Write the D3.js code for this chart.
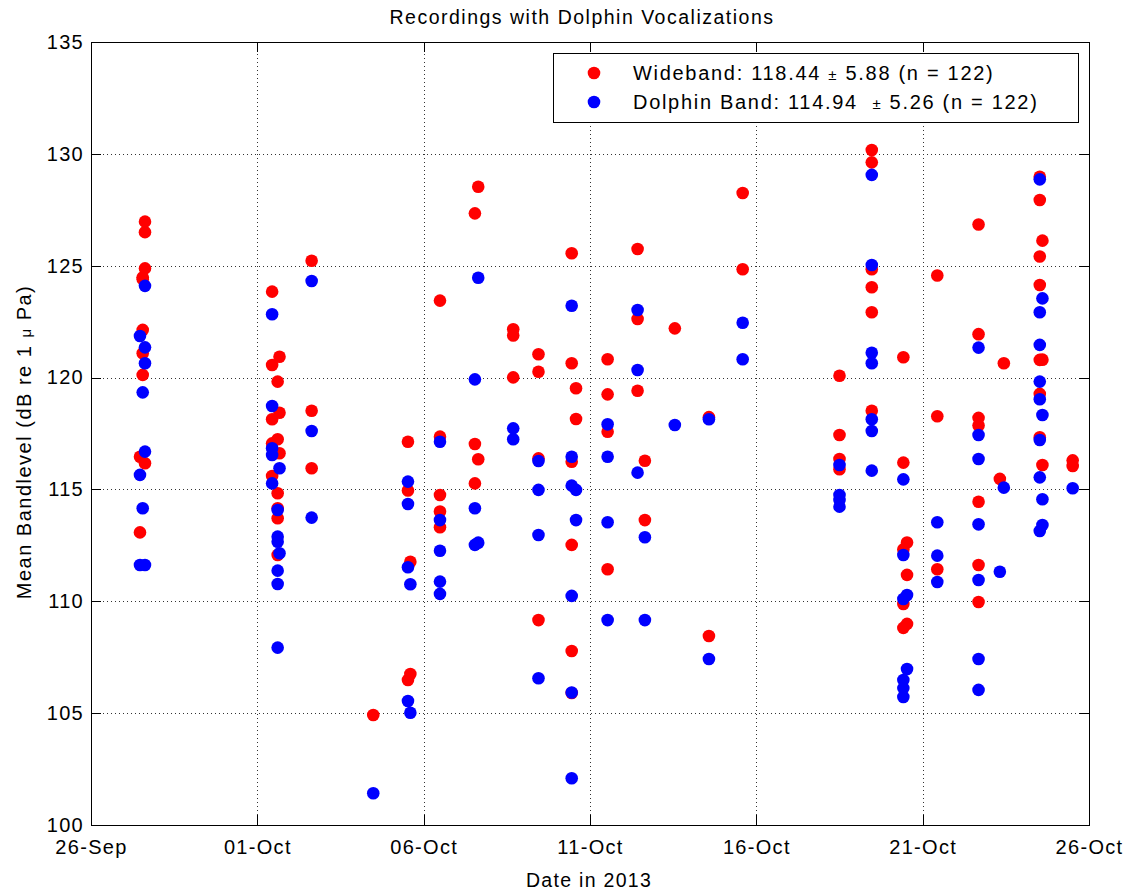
<!DOCTYPE html>
<html>
<head>
<meta charset="utf-8">
<title>Recordings with Dolphin Vocalizations</title>
<script src="https://cdn.jsdelivr.net/npm/d3@7"></script>
<style>
  html, body { margin: 0; padding: 0; background: #fff; }
  svg { display: block; font-family: "Liberation Sans", Arial, Helvetica, sans-serif; }
  text { white-space: pre; }
</style>
</head>
<body>
<svg id="chart" width="1127" height="892"></svg>
<script>
// Recording sessions (local time, 2013) and the mean band levels measured in each.
const sessionTimes = [
  "2013-09-27 11:20", "2013-09-27 13:18", "2013-09-27 14:57",
  "2013-10-01 10:40", "2013-10-01 14:40", "2013-10-01 16:00",
  "2013-10-02 15:11", "2013-10-04 11:38",
  "2013-10-05 12:40", "2013-10-05 14:24",
  "2013-10-06 11:46",
  "2013-10-07 12:58", "2013-10-07 15:22",
  "2013-10-08 16:36", "2013-10-09 10:50",
  "2013-10-10 10:48", "2013-10-10 13:55",
  "2013-10-11 12:43",
  "2013-10-12 10:20", "2013-10-12 15:36",
  "2013-10-13 13:12", "2013-10-14 13:48", "2013-10-15 14:09",
  "2013-10-18 12:00", "2013-10-19 11:17",
  "2013-10-20 10:04", "2013-10-20 12:43",
  "2013-10-21 10:33", "2013-10-22 16:19",
  "2013-10-23 07:41", "2013-10-23 10:34",
  "2013-10-24 12:29", "2013-10-24 14:24",
  "2013-10-25 12:14"
];

// Wideband level (dB re 1 uPa) per session
const widebandLevels = [
  [116.46, 113.08],
  [124.48, 124.4, 122.13, 121.09, 120.12],
  [126.97, 126.5, 124.88, 116.17],
  [123.84, 120.56, 118.14, 117.06, 115.6],
  [119.82, 117.24, 114.83, 114.16, 113.71, 112.07],
  [120.93, 118.43, 116.62],
  [125.22, 118.52, 115.95],
  [104.92],
  [117.13, 114.95, 106.48],
  [111.77, 106.75],
  [123.44, 117.36, 114.75, 114.01, 113.31],
  [127.34, 117.03, 115.27],
  [128.53, 116.35],
  [122.16, 121.88, 120.01],
  [121.04, 120.26, 116.39, 109.16],
  [125.56, 120.64, 116.24, 112.52, 107.78, 105.9],
  [119.52, 118.15],
  [120.82, 119.25, 117.58, 111.43],
  [125.75, 122.62, 119.41],
  [116.28, 113.63],
  [122.2],
  [118.23, 108.45],
  [128.25, 124.84],
  [120.08, 117.43, 116.36, 115.9],
  [130.17, 129.62, 124.84, 124.04, 122.92, 118.52],
  [120.91, 116.2, 112.32, 109.88, 108.81],
  [112.63, 111.18, 108.99],
  [124.56, 118.27, 111.43],
  [126.84, 121.94, 118.2, 117.86, 114.45, 111.62, 109.97],
  [115.47],
  [120.64],
  [128.98, 127.94, 125.41, 124.14, 120.79, 119.27, 117.33],
  [126.12, 120.8, 116.09],
  [116.3, 116.05]
];

// Dolphin-band level (dB re 1 uPa) per session
const dolphinLevels = [
  [121.86, 115.65, 111.62],
  [119.34, 114.16],
  [124.1, 121.35, 120.64, 116.69, 111.62],
  [122.83, 118.73, 116.84, 116.54, 115.27],
  [114.08, 112.89, 112.66, 111.37, 110.77, 107.93],
  [115.95, 112.15],
  [124.32, 117.61, 113.74],
  [101.42],
  [115.35, 114.35, 111.52, 105.54],
  [110.76, 105.02],
  [117.13, 113.63, 112.26, 110.88, 110.33],
  [119.92, 114.16, 112.52],
  [124.46, 112.62],
  [117.73, 117.24],
  [116.27, 114.98, 112.96, 106.56],
  [123.21, 116.46, 115.17, 110.24, 105.92, 102.09],
  [114.98, 113.63],
  [117.91, 116.46, 113.53, 109.16],
  [123.02, 120.34, 115.75],
  [112.86, 109.16],
  [117.88],
  [118.14, 107.42],
  [122.45, 120.82],
  [116.09, 114.75, 114.53, 114.23],
  [129.06, 125.03, 121.11, 120.64, 118.14, 117.61, 115.84],
  [115.45, 112.07, 110.1, 106.48, 106.12, 105.72],
  [110.28, 106.97],
  [113.53, 112.04, 110.86],
  [121.34, 117.43, 116.36, 113.44, 110.95, 107.42, 106.04],
  [111.32],
  [115.08],
  [128.86, 122.92, 121.46, 119.82, 119.03, 117.21, 115.54, 113.14],
  [123.54, 118.33, 114.56, 113.41],
  [115.05]
];

const xTickDates = ["2013-09-26", "2013-10-01", "2013-10-06", "2013-10-11", "2013-10-16", "2013-10-21", "2013-10-26"];
const yTickValues = [100, 105, 110, 115, 120, 125, 130, 135];

const seriesNames = ["Wideband", "Dolphin Band"];
const seriesColors = ["#ff0000", "#0000ff"];
// Legend entries: text before the ± sign, and text after it
const legendPrefix = ["Wideband: 118.44 ", "Dolphin Band: 114.94  "];
const legendSuffix = [" 5.88 (n = 122)", " 5.26 (n = 122)"];

const titleText = "Recordings with Dolphin Vocalizations";
const xLabelText = "Date in 2013";
const yLabelText = "Mean Bandlevel (dB re 1 ";

// ---- layout ----
const W = 1127, H = 892;
const margin = { top: 42, right: 38, bottom: 67, left: 91 };
const plotW = W - margin.left - margin.right;
const plotH = H - margin.top - margin.bottom;
const FONT = 20, SPACING = "1.3px";

const parseTime = d3.timeParse("%Y-%m-%d %H:%M");
const parseDay = d3.timeParse("%Y-%m-%d");
const xTicks = xTickDates.map(parseDay);

const x = d3.scaleTime()
  .domain([xTicks[0], xTicks[xTicks.length - 1]])
  .range([0, plotW]);
const y = d3.scaleLinear().domain([100, 135]).range([plotH, 0]);

const svg = d3.select("#chart");
svg.append("rect").attr("width", W).attr("height", H).attr("fill", "#fff");

const g = svg.append("g").attr("transform", `translate(${margin.left},${margin.top})`);

// dotted grid
const grid = g.append("g").attr("stroke", "#333").attr("stroke-width", 1)
  .attr("stroke-dasharray", "1,3").attr("shape-rendering", "crispEdges");
grid.selectAll("line.vx").data(xTicks.slice(1, -1)).join("line")
  .attr("x1", d => Math.round(x(d)) + 0.5).attr("x2", d => Math.round(x(d)) + 0.5)
  .attr("y1", 0).attr("y2", plotH);
grid.selectAll("line.hy").data(yTickValues.slice(1, -1)).join("line")
  .attr("y1", d => Math.round(y(d)) + 0.5).attr("y2", d => Math.round(y(d)) + 0.5)
  .attr("x1", 0).attr("x2", plotW);

// axes with inward ticks on all four sides
const TICK = 10;
const fmtDay = d3.timeFormat("%d-%b");

function styleAxis(sel, withText) {
  sel.select(".domain").remove();
  sel.selectAll(".tick line").attr("stroke", "#000").attr("shape-rendering", "crispEdges");
  sel.selectAll(".tick text")
    .attr("fill", "#000")
    .style("font-size", FONT + "px")
    .style("letter-spacing", SPACING)
    .style("font-family", '"Liberation Sans", Arial, Helvetica, sans-serif');
  if (!withText) sel.selectAll(".tick text").remove();
}

g.append("g").attr("transform", `translate(0,${plotH})`)
  .call(d3.axisBottom(x).tickValues(xTicks).tickFormat(fmtDay).tickSizeInner(-TICK).tickSizeOuter(0).tickPadding(15))
  .call(s => styleAxis(s, true));
g.append("g")
  .call(d3.axisTop(x).tickValues(xTicks).tickSizeInner(-TICK).tickSizeOuter(0))
  .call(s => styleAxis(s, false));
g.append("g")
  .call(d3.axisLeft(y).tickValues(yTickValues).tickFormat(d3.format("d")).tickSizeInner(-TICK).tickSizeOuter(0).tickPadding(7))
  .call(s => styleAxis(s, true));
g.append("g").attr("transform", `translate(${plotW},0)`)
  .call(d3.axisRight(y).tickValues(yTickValues).tickSizeInner(-TICK).tickSizeOuter(0))
  .call(s => styleAxis(s, false));

// axes box
g.append("rect").attr("x", 0.5).attr("y", 0.5).attr("width", plotW).attr("height", plotH)
  .attr("fill", "none").attr("stroke", "#000").attr("stroke-width", 1).attr("shape-rendering", "crispEdges");

// points: wideband first, dolphin band drawn on top
const R = 6.3;
[widebandLevels, dolphinLevels].forEach((levels, si) => {
  const pts = [];
  levels.forEach((vals, i) => vals.forEach(v => pts.push({ t: parseTime(sessionTimes[i]), v })));
  g.append("g").attr("class", "series-" + si)
    .selectAll("circle").data(pts).join("circle")
    .attr("cx", d => x(d.t))
    .attr("cy", d => y(d.v))
    .attr("r", R)
    .attr("fill", seriesColors[si]);
});

// legend
const lg = svg.append("g").attr("transform", "translate(553,53)");
lg.append("rect").attr("x", 0.5).attr("y", 0.5).attr("width", 525).attr("height", 69)
  .attr("fill", "#fff").attr("stroke", "#000").attr("shape-rendering", "crispEdges");
seriesNames.forEach((name, i) => {
  const cy = 20 + i * 29;
  lg.append("circle").attr("cx", 41).attr("cy", cy).attr("r", R).attr("fill", seriesColors[i]);
  const t = lg.append("text").attr("x", 80).attr("y", cy + 7)
    .style("font-size", FONT + "px").style("letter-spacing", "1.7px").attr("fill", "#000");
  t.append("tspan").text(legendPrefix[i]);
  t.append("tspan").style("font-size", "15px").text("±");
  t.append("tspan").text(legendSuffix[i]);
});

// title and axis labels
svg.append("text").attr("x", 582).attr("y", 24).attr("text-anchor", "middle")
  .style("font-size", "19.5px").style("letter-spacing", "1.5px").text(titleText);
svg.append("text").attr("x", 589).attr("y", 887).attr("text-anchor", "middle")
  .style("font-size", "19.5px").style("letter-spacing", SPACING).text(xLabelText);
const yl = svg.append("text").attr("transform", "translate(31,442) rotate(-90)")
  .attr("text-anchor", "middle").style("font-size", FONT + "px").style("letter-spacing", "1.5px");
yl.append("tspan").text(yLabelText);
yl.append("tspan").style("font-size", "15px").text("μ");
yl.append("tspan").text(" Pa)");
</script>
</body>
</html>
